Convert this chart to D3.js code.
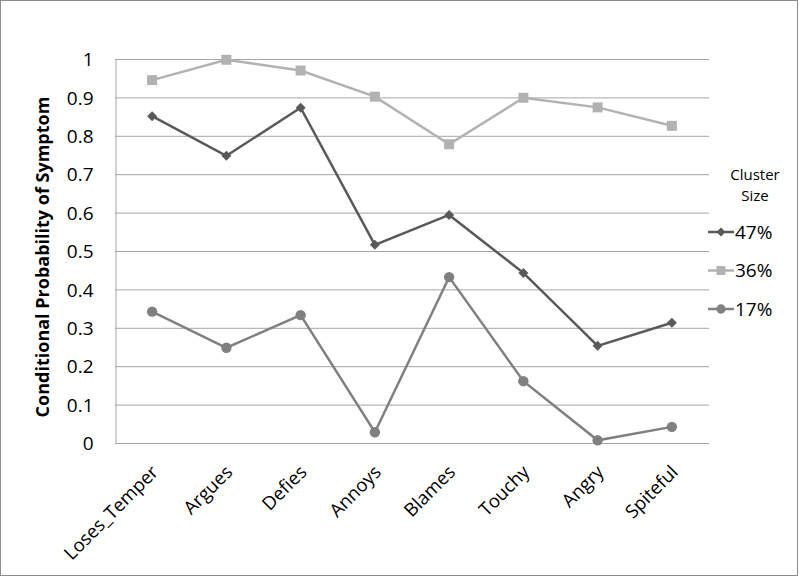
<!DOCTYPE html>
<html>
<head>
<meta charset="utf-8">
<script src="https://cdn.jsdelivr.net/npm/d3@7"></script>
<style>
    body { margin: 0; background: #fff; }
    svg text { font-family: "Open Sans", sans-serif; fill: #000; }
</style>
</head>
<body>
<svg id="chart" width="800" height="579"></svg>
<script>
// 数据
const symptoms = ["Loses_Temper", "Argues", "Defies", "Annoys", "Blames", "Touchy", "Angry", "Spiteful"];
const cluster47 = [0.851, 0.748, 0.873, 0.516, 0.594, 0.443, 0.253, 0.313];
const cluster36 = [0.945, 0.998, 0.970, 0.902, 0.778, 0.899, 0.874, 0.826];
const cluster17 = [0.342, 0.248, 0.333, 0.028, 0.432, 0.161, 0.007, 0.042];
const seriesNames = ["47%", "36%", "17%"];
const yTicks = [0, 0.1, 0.2, 0.3, 0.4, 0.5, 0.6, 0.7, 0.8, 0.9, 1];

// 菱形 = 旋转45度的正方形
const series = [
    { name: seriesNames[0], values: cluster47, color: "#595959", symbol: d3.symbolSquare, size: 50, rot: 45 },
    { name: seriesNames[1], values: cluster36, color: "#b2b2b2", symbol: d3.symbolSquare, size: 100, rot: 0 },
    { name: seriesNames[2], values: cluster17, color: "#808080", symbol: d3.symbolCircle, size: 85, rot: 0 }
];

const svg = d3.select("#chart");
const margin = { left: 115, right: 709, top: 59, bottom: 443 };

// 外框
svg.append("rect")
    .attr("x", 0.5).attr("y", 0.5)
    .attr("width", 797).attr("height", 575)
    .attr("fill", "none").attr("stroke", "#8c8c8c");

// 比例尺
const x = d3.scaleBand().domain(symptoms).range([margin.left, margin.right]);
const y = d3.scaleLinear().domain([0, 1]).range([margin.bottom, margin.top]);

// 网格线
svg.append("g")
    .selectAll("line")
    .data(yTicks)
    .enter()
    .append("line")
    .attr("x1", margin.left).attr("x2", margin.right)
    .attr("y1", d => y(d) + 0.5).attr("y2", d => y(d) + 0.5)
    .attr("stroke", "#a6a6a6").attr("stroke-width", 1);

// Y轴
const yAxis = svg.append("g")
    .attr("transform", `translate(${margin.left + 0.5},0)`)
    .call(d3.axisLeft(y).tickValues(yTicks).tickSize(0).tickPadding(22).tickFormat(d3.format("~g")));
yAxis.select(".domain").attr("stroke", "#a6a6a6");
yAxis.selectAll("text").style("font-size", "19px").attr("dy", "0.35em");

// X轴标签
const xAxis = svg.append("g")
    .attr("transform", `translate(0,${margin.bottom})`)
    .call(d3.axisBottom(x).tickSize(0));
xAxis.select(".domain").remove();
xAxis.selectAll("text")
    .style("font-size", "18.5px")
    .attr("text-anchor", "end")
    .attr("dy", "0.7em")
    .attr("transform", "translate(-4,19) rotate(-45)");

// Y轴标题
svg.append("text")
    .attr("transform", "translate(49,257) rotate(-90)")
    .attr("text-anchor", "middle")
    .style("font-size", "18px")
    .style("font-weight", "bold")
    .text("Conditional Probability of Symptom");

// 折线
const line = d3.line()
    .x((d, i) => x(symptoms[i]) + x.bandwidth() / 2)
    .y(d => y(d));

series.forEach(s => {
    const g = svg.append("g");
    g.append("path")
        .datum(s.values)
        .attr("fill", "none")
        .attr("stroke", s.color)
        .attr("stroke-width", 2.5)
        .attr("d", line);
    g.selectAll("path.marker")
        .data(s.values)
        .enter()
        .append("path")
        .attr("class", "marker")
        .attr("transform", (d, i) => `translate(${x(symptoms[i]) + x.bandwidth() / 2},${y(d)}) rotate(${s.rot})`)
        .attr("d", d3.symbol().type(s.symbol).size(s.size))
        .attr("fill", s.color);
});

// 图例
const legend = svg.append("g");
legend.append("text")
    .attr("x", 755).attr("y", 180)
    .attr("text-anchor", "middle")
    .style("font-size", "15px")
    .text("Cluster");
legend.append("text")
    .attr("x", 755).attr("y", 201)
    .attr("text-anchor", "middle")
    .style("font-size", "15px")
    .text("Size");

series.forEach((s, i) => {
    const ly = 232 + i * 38.5;
    legend.append("line")
        .attr("x1", 708).attr("x2", 734)
        .attr("y1", ly).attr("y2", ly)
        .attr("stroke", s.color).attr("stroke-width", 2.5);
    legend.append("path")
        .attr("transform", `translate(721,${ly}) rotate(${s.rot})`)
        .attr("d", d3.symbol().type(s.symbol).size(s.size * 0.8))
        .attr("fill", s.color);
    legend.append("text")
        .attr("x", 735).attr("y", ly)
        .attr("dy", "0.35em")
        .style("font-size", "19px")
        .text(s.name);
});
</script>
</body>
</html>
